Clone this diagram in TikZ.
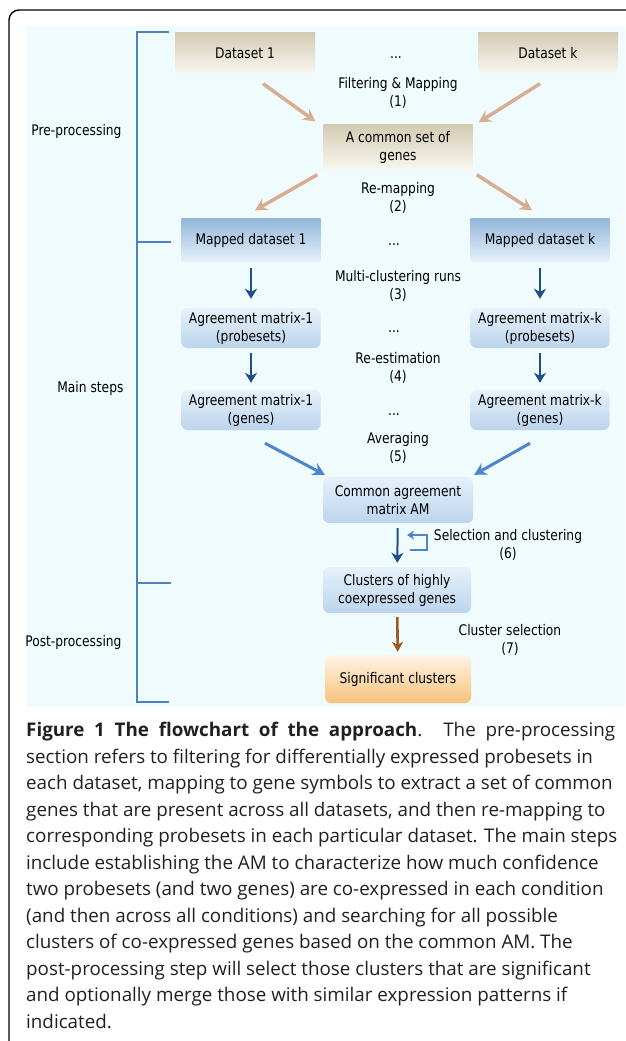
\documentclass[tikz,border=0pt]{standalone}
\usepackage{fontspec}
\setmainfont{Open Sans}
\newfontfamily\diagfont{DejaVu Sans}[FakeStretch=0.84]
\usetikzlibrary{arrows.meta}

\definecolor{bgblue}{HTML}{EFFBFD}
\definecolor{bracketblue}{HTML}{4F81BD}
\definecolor{tanlight}{HTML}{F8F7F0}
\definecolor{tandark}{HTML}{D3CBB2}
\definecolor{boxtop}{HTML}{E6F1FB}
\definecolor{boxbot}{HTML}{BBD4EC}
\definecolor{mapdark}{HTML}{93B6DA}
\definecolor{orangetop}{HTML}{FDF4E6}
\definecolor{orangebot}{HTML}{F7C27A}
\definecolor{tanarrow}{HTML}{D8AD92}
\definecolor{navy}{HTML}{1F4E8C}
\definecolor{avgblue}{HTML}{4A86C8}
\definecolor{brownarrow}{HTML}{9A5A22}
\definecolor{captext}{HTML}{231F20}

\tikzset{
  every node/.style={font=\diagfont\fontsize{14.6}{18}\selectfont, align=center},
  paperbox/.style={top color=tandark, bottom color=tanlight, minimum width=140pt, minimum height=41pt},
  mapbox/.style={top color=mapdark, bottom color=boxtop, minimum width=139pt, minimum height=43pt},
  roundbox/.style={rounded corners=6pt, top color=boxtop, bottom color=boxbot, minimum width=139pt, minimum height=40pt},
  sigbox/.style={rounded corners=6pt, top color=orangetop, bottom color=orangebot, minimum width=146pt, minimum height=48pt},
  steplabel/.style={inner sep=0pt},
  tanline/.style={line width=3.5pt, draw=tanarrow, -{Stealth[length=12pt,width=13pt,inset=4pt]}},
  navyline/.style={line width=2.8pt, draw=navy, shorten <=6pt, shorten >=9pt, -{Stealth[length=10pt,width=12pt,inset=3pt]}},
  avgline/.style={line width=3pt, draw=avgblue, -{Stealth[length=12pt,width=13pt,inset=4pt]}},
  brownline/.style={line width=2.6pt, draw=brownarrow, shorten <=4pt, shorten >=3pt, -{Stealth[length=10pt,width=11pt,inset=3pt]}},
  bracket/.style={line width=2.6pt, draw=bracketblue}
}

\begin{document}
\begin{tikzpicture}[x=1pt,y=-1pt]
  \useasboundingbox (0,0) rectangle (625,1041);
  % frame and background
  \draw[line width=1.4pt, rounded corners=10pt] (9,1045) -- (9,10) -- (630,10);
  \fill[bgblue] (26,26) rectangle (625,707);

  % bracket on the left
  \draw[bracket] (169,32) -- (137,32) -- (137,702) -- (169,702);
  \draw[bracket] (137,242) -- (171,242);
  \draw[bracket] (137,583) -- (171,583);
  \node[anchor=east] (pre) at (125,131) {Pre-processing};
  \node[anchor=east] (main) at (127,388) {Main steps};
  \node[anchor=east] (post) at (125,642) {Post-processing};

  % boxes
  \node[paperbox] (ds1) at (245,53) {Dataset 1};
  \node[paperbox] (dsk) at (548,53) {Dataset k};
  \node[paperbox, minimum width=149pt, minimum height=45pt] (common) at (398,147) {A common set of\\genes};
  \node[mapbox] (mp1) at (251,240) {Mapped dataset 1};
  \node[mapbox] (mpk) at (540,240) {Mapped dataset k};
  \node[roundbox] (am1p) at (251,328) {Agreement matrix-1\\(probesets)};
  \node[roundbox] (amkp) at (540,328) {Agreement matrix-k\\(probesets)};
  \node[roundbox] (am1g) at (251,410) {Agreement matrix-1\\(genes)};
  \node[roundbox] (amkg) at (540,410) {Agreement matrix-k\\(genes)};
  \node[roundbox, minimum width=150pt, minimum height=46pt] (cam) at (398,500) {Common agreement\\matrix AM};
  \node[roundbox, minimum width=148pt, minimum height=46pt] (clu) at (397,590) {Clusters of highly\\coexpressed genes};
  \node[sigbox] (sig) at (398,679) {Significant clusters};

  % dots and step labels
  \node[steplabel] (dots1) at (396,58) {...};
  \node[steplabel] (dots2) at (394,245) {...};
  \node[steplabel] (dots3) at (394,332) {...};
  \node[steplabel] (dots4) at (394,415) {...};
  \node[steplabel] (lab1) at (398,93) {Filtering \& Mapping\\(1)};
  \node[steplabel] (lab2) at (398,198) {Re-mapping\\(2)};
  \node[steplabel] (lab3) at (398,286) {Multi-clustering runs\\(3)};
  \node[steplabel] (lab4) at (398,368) {Re-estimation\\(4)};
  \node[steplabel] (lab5) at (398,448) {Averaging\\(5)};
  \node[steplabel] (lab6) at (508,545) {Selection and clustering\\(6)};
  \node[steplabel] (lab7) at (510,640) {Cluster selection\\(7)};

  % connectors
  \draw[tanline] ([shift={(18,10)}]ds1.south) -- ([shift={(-8,-3)}]common.north west);
  \draw[tanline] ([shift={(-8,10)}]dsk.south) -- ([shift={(6,-2)}]common.north east);
  \draw[tanline] ([shift={(-6,5)}]common.south west) -- ([shift={(4,-8)}]mp1.north);
  \draw[tanline] ([shift={(4,5)}]common.south east) -- ([shift={(-8,-8)}]mpk.north);
  \draw[navyline] (mp1) -- (am1p);
  \draw[navyline] (mpk) -- (amkp);
  \draw[navyline, shorten >=7pt, shorten <=5pt] (am1p) -- (am1g);
  \draw[navyline, shorten >=7pt, shorten <=5pt] (amkp) -- (amkg);
  \draw[avgline] ([shift={(14,13)}]am1g.south) -- ([shift={(2,-2)}]cam.north west);
  \draw[avgline] ([shift={(-10,13)}]amkg.south) -- ([shift={(1,-2)}]cam.north east);
  \draw[navyline, line width=2pt, shorten <=5pt, shorten >=4pt] (cam) -- (clu);
  \coordinate (loopin) at (410,550);
  \coordinate (loopout) at (407,535);
  \draw[line width=2.6pt, draw=avgblue, -{Stealth[length=7pt,width=9pt,inset=2pt]}]
    (loopin) -- ++(17,0) -- ++(0,-15) -- (loopout);
  \draw[brownline] (clu) -- (sig);

  % caption
  \node[anchor=north west, inner sep=0pt, align=left, text=captext,
        font=\fontsize{18.8}{26.5}\selectfont] (caption) at (26,722)
  {\makebox[589pt][s]{\textbf{Figure 1 The flowchart of the approach}. The pre-processing}\\
   section refers to filtering for differentially expressed probesets in\\
   each dataset, mapping to gene symbols to extract a set of common\\
   genes that are present across all datasets, and then re-mapping to\\
   corresponding probesets in each particular dataset. The main steps\\
   include establishing the AM to characterize how much confidence\\
   two probesets (and two genes) are co-expressed in each condition\\
   (and then across all conditions) and searching for all possible\\
   clusters of co-expressed genes based on the common AM. The\\
   post-processing step will select those clusters that are significant\\
   and optionally merge those with similar expression patterns if\\
   indicated.};
\end{tikzpicture}
\end{document}
